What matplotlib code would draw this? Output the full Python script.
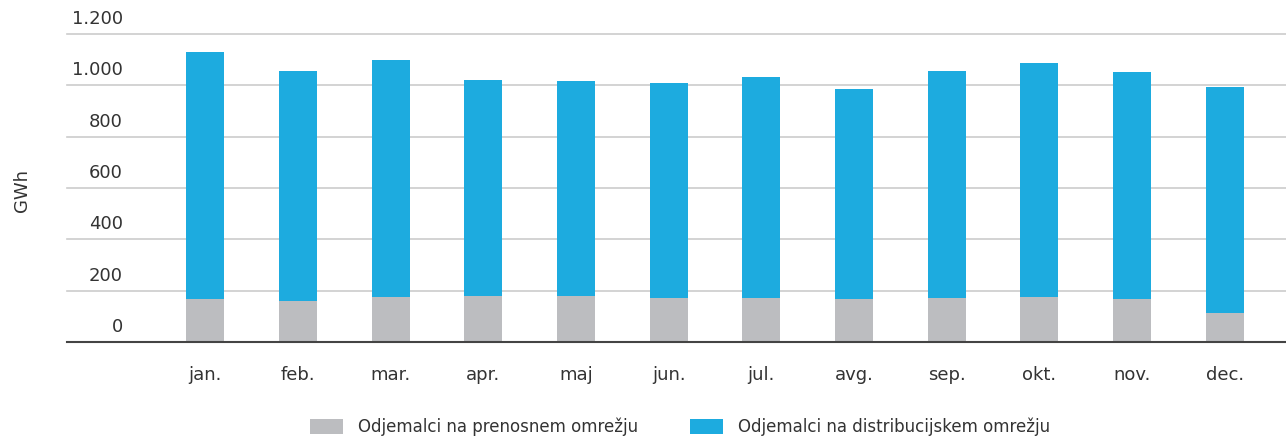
import numpy as np
import matplotlib
matplotlib.use('Agg')
import matplotlib.pyplot as plt
from matplotlib.transforms import ScaledTranslation

# monthly consumption, GWh
months = ['jan.', 'feb.', 'mar.', 'apr.', 'maj', 'jun.',
          'jul.', 'avg.', 'sep.', 'okt.', 'nov.', 'dec.']
prenosno = [167, 159, 174, 178, 178, 170, 170, 167, 170, 174, 167, 112]
distribucija = [963, 897, 925, 843, 839, 839, 862, 818, 886, 913, 885, 881]

yticks = [0, 200, 400, 600, 800, 1000, 1200]
ytick_labels = ['0', '200', '400', '600', '800', '1.000', '1.200']

series_names = ['Odjemalci na prenosnem omrežju', 'Odjemalci na distribucijskem omrežju']
gray = '#bcbdc0'
blue = '#1dabdf'
text_col = '#333333'

plt.rcParams['font.family'] = 'DejaVu Sans'
plt.rcParams['font.size'] = 13

fig = plt.figure(figsize=(12.86, 4.38), dpi=100)
ax = fig.add_axes([0.0521, 0.2192, 0.9479, 0.7032])

x = np.arange(len(months))
ax.bar(x, prenosno, width=0.41, color=gray, label=series_names[0], zorder=3)
ax.bar(x, distribucija, width=0.41, bottom=prenosno, color=blue,
       label=series_names[1], zorder=3)

ax.set_xlim(-1.49, 11.66)
ax.set_ylim(0, 1200)

ax.set_xticks(x)
ax.set_xticklabels(months, color=text_col)
ax.tick_params(axis='x', length=0, pad=17)

ax.set_yticks(yticks)
ax.set_yticklabels(ytick_labels, color=text_col)
ax.tick_params(axis='y', length=0, pad=0)
# labels sit inside the plot, just above each gridline
shift = ScaledTranslation(0.56, 0.06, fig.dpi_scale_trans)
for lab in ax.get_yticklabels():
    lab.set_transform(lab.get_transform() + shift)
    lab.set_verticalalignment('bottom')

ax.yaxis.grid(True, color='#cccccc', linewidth=1.2, zorder=0)
for gl in ax.get_ygridlines():
    gl.set_clip_on(False)
ax.set_axisbelow(True)
for s in ['top', 'right', 'left']:
    ax.spines[s].set_visible(False)
ax.spines['bottom'].set_color('#444444')
ax.spines['bottom'].set_linewidth(1.5)
ax.spines['bottom'].set_zorder(4)

fig.text(0.017, 0.566, 'GWh', rotation=90, ha='center', va='center',
         color=text_col, fontsize=13)

fig.legend(loc='center', bbox_to_anchor=(0.529, 0.025), ncol=2, frameon=False,
           handlelength=2.0, handleheight=1.0, handletextpad=0.9,
           columnspacing=3.1, borderpad=0, labelcolor=text_col, fontsize=12)

fig.savefig('out.png', dpi=100)
